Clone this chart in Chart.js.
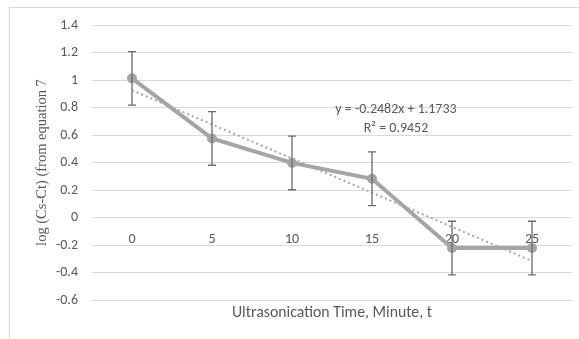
<!DOCTYPE html>
<html>
<head>
<meta charset="utf-8">
<script src="https://cdn.jsdelivr.net/npm/chart.js@4/dist/chart.umd.min.js"></script>
<style>
  html, body { margin: 0; padding: 0; background: #fff; overflow: hidden; }
  #wrap { position: relative; width: 579px; height: 339px; }
  #frame { position: absolute; left: 9px; top: 7px; width: 640px; height: 400px; border: 1px solid #d9d9d9; }
  canvas { position: absolute; left: 0; top: 0; }
</style>
</head>
<body>
<div id="wrap">
  <div id="frame"></div>
  <canvas id="chart" width="579" height="339"></canvas>
</div>
<script>
const categories = ["0", "5", "10", "15", "20", "25"];
const logValues = [1.012, 0.575, 0.397, 0.282, -0.222, -0.222];
const errorValues = [0.195, 0.195, 0.195, 0.195, 0.195, 0.195];
// linear trendline y = -0.2482x + 1.1733 read at x = 1..6
const trendValues = [0.925, 0.677, 0.429, 0.181, -0.068, -0.316];
const equationLines = ["y = -0.2482x + 1.1733", "R\u00b2 = 0.9452"];

const textColor = "#595959";
const baseFont = "Carlito, Lato, 'Open Sans', sans-serif";

const errorBars = {
  id: "errorBars",
  afterDatasetsDraw(chart) {
    const ctx = chart.ctx;
    const x = chart.scales.x;
    const y = chart.scales.y;
    ctx.save();
    ctx.strokeStyle = "#6b6b6b";
    ctx.lineWidth = 1.3;
    logValues.forEach((v, i) => {
      const px = x.getPixelForValue(i);
      const top = y.getPixelForValue(v + errorValues[i]);
      const bot = y.getPixelForValue(v - errorValues[i]);
      ctx.beginPath();
      ctx.moveTo(px, top); ctx.lineTo(px, bot);
      ctx.moveTo(px - 4, top); ctx.lineTo(px + 4, top);
      ctx.moveTo(px - 4, bot); ctx.lineTo(px + 4, bot);
      ctx.stroke();
    });
    ctx.restore();
  }
};

const equationLabel = {
  id: "equationLabel",
  afterDraw(chart) {
    const ctx = chart.ctx;
    const px = chart.scales.x.getPixelForValue(3.3);
    const py = chart.scales.y.getPixelForValue(0.785);
    ctx.save();
    ctx.fillStyle = textColor;
    ctx.font = "14px " + baseFont;
    ctx.textAlign = "center";
    ctx.textBaseline = "middle";
    ctx.fillText(equationLines[0], px, py);
    ctx.fillText(equationLines[1], px, py + 18.5);
    ctx.restore();
  }
};

new Chart(document.getElementById("chart"), {
  type: "line",
  data: {
    labels: categories,
    datasets: [
      {
        data: logValues,
        borderColor: "#a5a5a5",
        backgroundColor: "#a5a5a5",
        borderWidth: 4,
        pointRadius: 5,
        pointBorderWidth: 0,
        tension: 0
      },
      {
        data: trendValues,
        borderColor: "#a5a5a5",
        borderWidth: 2,
        borderDash: [2, 3],
        pointRadius: 0,
        tension: 0
      }
    ]
  },
  options: {
    responsive: false,
    animation: false,
    events: [],
    layout: { padding: { left: 0, right: 7, top: 25, bottom: 0 } },
    plugins: {
      legend: { display: false },
      tooltip: { enabled: false }
    },
    scales: {
      x: {
        position: { y: 0 },
        offset: true,
        grid: { display: false },
        border: { display: false },
        ticks: {
          color: textColor,
          font: { family: baseFont, size: 14 },
          padding: 6,
          maxRotation: 0
        }
      },
      x2: {
        type: "category",
        position: "bottom",
        offset: true,
        grid: { display: false, drawTicks: false },
        border: { display: false },
        ticks: { display: false },
        title: {
          display: true,
          text: "Ultrasonication Time, Minute, t",
          color: textColor,
          font: { family: baseFont, size: 15.8 },
          padding: { top: 4, bottom: 16 }
        }
      },
      y: {
        min: -0.6,
        max: 1.4,
        afterFit(scale) { scale.width = 92; },
        grid: { color: "#d9d9d9", lineWidth: 1, drawTicks: false },
        border: { display: false },
        ticks: {
          stepSize: 0.2,
          padding: 14,
          color: textColor,
          font: { family: baseFont, size: 14 },
          callback: v => String(+v.toFixed(1))
        },
        title: {
          display: true,
          text: "log (Cs-Ct) (from equation 7",
          color: textColor,
          font: { family: "'Liberation Serif', 'Times New Roman', serif", size: 14.5 },
          padding: { top: 33, bottom: 0 }
        }
      }
    }
  },
  plugins: [errorBars, equationLabel]
});
</script>
</body>
</html>
